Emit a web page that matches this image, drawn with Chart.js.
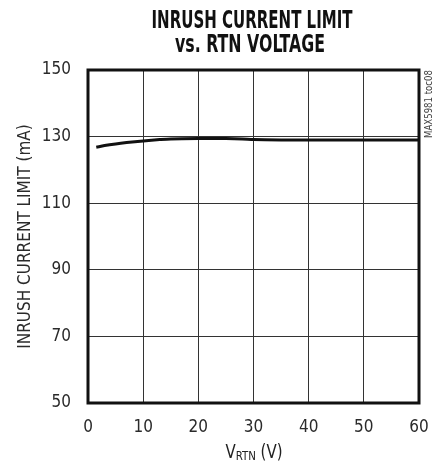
<!DOCTYPE html>
<html>
<head>
<meta charset="utf-8">
<script src="https://cdn.jsdelivr.net/npm/chart.js@4"></script>
<style>
html,body{margin:0;padding:0;background:#fff;}
#wrap{width:438px;height:463px;}
</style>
</head>
<body>
<div id="wrap"><canvas id="c" width="438" height="463"></canvas></div>
<script>
const voltage = [1.5, 3, 5, 7, 10, 13, 15, 20, 25, 28, 30, 35, 40, 45, 50, 55, 60];
const current = [126.8, 127.3, 127.8, 128.2, 128.7, 129.1, 129.3, 129.4, 129.4, 129.3, 129.1, 129.0, 129.0, 129.0, 129.0, 129.0, 129.0];
const xTicks = [0, 10, 20, 30, 40, 50, 60];
const yTicks = [50, 70, 90, 110, 130, 150];
const titleLines = ['INRUSH CURRENT LIMIT', 'vs. RTN VOLTAGE'];
const yTitle = 'INRUSH CURRENT LIMIT (mA)';
const watermark = 'MAX5981 toc08';

const FONT = "'DejaVu Sans Condensed','Liberation Sans Narrow','Liberation Sans',sans-serif";

function squeezeText(ctx, text, cx, y, targetW) {
  const m = ctx.measureText(text).width;
  const s = targetW / m;
  ctx.save();
  ctx.translate(cx, y);
  ctx.scale(s, 1);
  ctx.fillText(text, 0, 0);
  ctx.restore();
}

const decor = {
  id: 'decor',
  afterDraw(chart) {
    const ctx = chart.ctx;
    const a = chart.chartArea;
    ctx.save();
    // frame
    ctx.strokeStyle = '#111';
    ctx.lineWidth = 3;
    ctx.strokeRect(a.left, a.top, a.right - a.left, a.bottom - a.top);
    // title
    ctx.fillStyle = '#111';
    ctx.textAlign = 'center';
    ctx.textBaseline = 'alphabetic';
    ctx.font = "bold 25px " + FONT;
    squeezeText(ctx, titleLines[0], 252, 28, 201);
    squeezeText(ctx, titleLines[1], 250, 52, 150);
    // x axis title with subscript
    ctx.fillStyle = '#222';
    const big = "19px " + FONT, small = "13px " + FONT;
    ctx.font = big;
    const w1 = ctx.measureText('V').width;
    const w3 = ctx.measureText(' (V)').width;
    ctx.font = small;
    const w2 = ctx.measureText('RTN').width;
    const total = w1 + w2 + w3;
    const sc = 57 / total;
    const by = 458;
    ctx.save();
    ctx.translate(254 - 57 / 2, by);
    ctx.scale(sc, 1);
    ctx.textAlign = 'left';
    let x = 0;
    ctx.font = big; ctx.fillText('V', x, 0); x += w1;
    ctx.font = small; ctx.fillText('RTN', x, 2); x += w2;
    ctx.font = big; ctx.fillText(' (V)', x, 0);
    ctx.restore();
    // watermark
    ctx.save();
    ctx.translate(432, 104);
    ctx.rotate(-Math.PI / 2);
    ctx.font = "10px " + FONT;
    ctx.fillStyle = '#444';
    ctx.textAlign = 'center';
    squeezeText(ctx, watermark, 0, 0, 68);
    ctx.restore();
    ctx.restore();
  }
};

new Chart(document.getElementById('c'), {
  type: 'line',
  data: {
    datasets: [{
      data: voltage.map((v, i) => ({x: v, y: current[i]})),
      borderColor: '#111',
      borderWidth: 3,
      pointRadius: 0,
      tension: 0.3,
      fill: false
    }]
  },
  options: {
    responsive: false,
    animation: false,
    devicePixelRatio: 1,
    layout: {padding: {left: 0, right: 19, top: 70, bottom: 0}},
    plugins: {legend: {display: false}, tooltip: {enabled: false}, title: {display: false}},
    scales: {
      x: {
        type: 'linear', min: 0, max: 60,
        afterBuildTicks(s) { s.ticks = xTicks.map(v => ({value: v})); },
        afterFit(s) { s.height = 60; s.paddingLeft = 0; s.paddingRight = 0; },
        grid: {color: '#333', lineWidth: 1, drawTicks: false},
        border: {display: false},
        ticks: {color: '#2a2a2a', padding: 14, font: {family: FONT, size: 17}, maxRotation: 0}
      },
      y: {
        min: 50, max: 150,
        afterBuildTicks(s) { s.ticks = yTicks.map(v => ({value: v})); },
        afterFit(s) { s.width = 88; s.paddingTop = 0; s.paddingBottom = 0; },
        grid: {color: '#333', lineWidth: 1, drawTicks: false},
        border: {display: false},
        ticks: {color: '#2a2a2a', padding: 17, font: {family: FONT, size: 17}},
        title: {display: true, text: yTitle, color: '#2a2a2a', font: {family: FONT, size: 17}, padding: {top: 15, bottom: 0}}
      }
    }
  },
  plugins: [decor]
});
</script>
</body>
</html>
